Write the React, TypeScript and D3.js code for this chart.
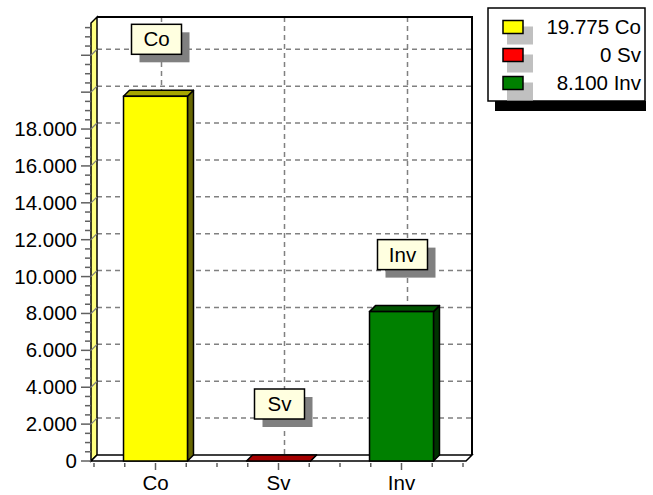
import React from 'react';
import * as d3 from 'd3';

const categories: string[] = ['Co', 'Sv', 'Inv'];
const values: number[] = [19775, 0, 8100];
const colors: string[] = ['#ffff00', '#ff0000', '#008000'];
const yLabelValues: number[] = [0, 2000, 4000, 6000, 8000, 10000, 12000, 14000, 16000, 18000];
const yGridValues: number[] = [2000, 4000, 6000, 8000, 10000, 12000, 14000, 16000, 18000, 20000, 22000];

const W = 653;
const H = 495;
const FONT = "'Liberation Sans', Arial, sans-serif";
const FS = 20.5;
const DX = 6;
const DY = 6;
const LEFT = 91;
const RIGHT = 466;
const BOTTOM = 461;
const TOP = 23;

const locale = d3.formatLocale({ decimal: ',', thousands: '.', grouping: [3], currency: ['', ''] });
const fmt = locale.format(',d');

function shade(c: string, k: number) {
  const r = d3.rgb(c);
  return d3.rgb(r.r * k, r.g * k, r.b * k).formatHex();
}

export default function App() {
  const y = d3.scaleLinear().domain([0, 23750]).range([BOTTOM, TOP]);
  const x = d3.scaleBand<string>().domain(categories).range([94, 463]).paddingInner(0.48).paddingOuter(0.24);
  const step = x.step();
  const x0 = 94;

  const minorTicks = d3.range(0, 23501, 500);
  const xTicks = d3.range(0, 13).map((i) => ({ x: x0 + (i * step) / 4, long: i % 4 === 2 }));

  const dash = { stroke: '#808080', strokeWidth: 1.5, strokeDasharray: '5,4', fill: 'none' };

  return (
    <svg width={W} height={H} style={{ position: 'absolute', left: 0, top: 0, background: '#fff' }} fontFamily={FONT}>
      <rect x={0} y={0} width={W} height={H} fill="#fff" />
      {/* back wall */}
      <rect x={LEFT + DX} y={TOP - DY} width={RIGHT - LEFT} height={BOTTOM - TOP} fill="#fff" />
      {yGridValues.map((v) => (
        <line key={'g' + v} x1={LEFT + DX} x2={RIGHT + DX} y1={y(v) - DY} y2={y(v) - DY} {...dash} />
      ))}
      {categories.map((c) => {
        const cx = (x(c) as number) + x.bandwidth() / 2 + DX;
        return <line key={'v' + c} x1={cx} x2={cx} y1={TOP - DY} y2={BOTTOM - DY} {...dash} />;
      })}
      {/* left wall */}
      <polygon
        points={`${LEFT},${BOTTOM} ${LEFT},${TOP} ${LEFT + DX},${TOP - DY} ${LEFT + DX},${BOTTOM - DY}`}
        fill="#ffff80"
        stroke="#000"
        strokeWidth={1.5}
      />
      {yGridValues.map((v) => (
        <line key={'w' + v} x1={LEFT} x2={LEFT + DX} y1={y(v)} y2={y(v) - DY} stroke="#808080" strokeWidth={1.2} />
      ))}
      {/* floor */}
      <polygon
        points={`${LEFT},${BOTTOM} ${LEFT + DX},${BOTTOM - DY} ${RIGHT + DX},${BOTTOM - DY} ${RIGHT},${BOTTOM}`}
        fill="#fff"
        stroke="#000"
        strokeWidth={1.5}
      />
      {/* back wall border */}
      <polyline
        points={`${LEFT + DX},${TOP - DY} ${RIGHT + DX},${TOP - DY} ${RIGHT + DX},${BOTTOM - DY}`}
        fill="none"
        stroke="#000"
        strokeWidth={2}
      />
      {/* y ticks */}
      {minorTicks.map((v) => {
        const major = v % 2000 === 0;
        return (
          <line key={'t' + v} x1={major ? 81 : 85} x2={LEFT} y1={y(v)} y2={y(v)} stroke="#606060" strokeWidth={1.5} />
        );
      })}
      {yLabelValues.map((v) => (
        <text key={'l' + v} x={77} y={y(v) + 7} textAnchor="end" fontSize={FS} fill="#000">
          {fmt(v)}
        </text>
      ))}
      {/* x ticks */}
      {xTicks.map((t, i) => (
        <line key={'x' + i} x1={t.x} x2={t.x} y1={BOTTOM + 2} y2={BOTTOM + (t.long ? 9 : 6)} stroke="#606060" strokeWidth={1.5} />
      ))}
      {categories.map((c) => (
        <text key={'c' + c} x={(x(c) as number) + x.bandwidth() / 2} y={490} textAnchor="middle" fontSize={FS} fill="#000">
          {c}
        </text>
      ))}
      {/* bars */}
      {categories.map((c, i) => {
        const bx = x(c) as number;
        const bw = x.bandwidth();
        const yt = y(values[i]);
        const col = colors[i];
        return (
          <g key={'b' + c}>
            <polygon
              points={`${bx + bw},${yt} ${bx + bw + DX},${yt - DY} ${bx + bw + DX},${BOTTOM - DY} ${bx + bw},${BOTTOM}`}
              fill={shade(col, 0.4)}
              stroke="#000"
              strokeWidth={1.5}
              strokeLinejoin="round"
            />
            <polygon
              points={`${bx},${yt} ${bx + DX},${yt - DY} ${bx + bw + DX},${yt - DY} ${bx + bw},${yt}`}
              fill={shade(col, 0.65)}
              stroke="#000"
              strokeWidth={1.5}
              strokeLinejoin="round"
            />
            {BOTTOM - yt > 0.5 && (
              <rect x={bx} y={yt} width={bw} height={BOTTOM - yt} fill={col} stroke="#000" strokeWidth={1.5} />
            )}
          </g>
        );
      })}
      {/* annotation boxes */}
      {categories.map((c, i) => {
        const cx = (x(c) as number) + x.bandwidth() / 2 + 1;
        const yt = y(values[i]);
        const bw = 50;
        const bh = 30;
        const top = yt - 72;
        return (
          <g key={'a' + c}>
            <rect x={cx - bw / 2 + 8} y={top + 8} width={bw} height={bh} fill="#808080" />
            <rect x={cx - bw / 2} y={top} width={bw} height={bh} fill="#ffffe0" stroke="#000" strokeWidth={1.5} />
            <text x={cx} y={top + bh / 2 + 7} textAnchor="middle" fontSize={FS} fill="#000">
              {c}
            </text>
          </g>
        );
      })}
      {/* legend */}
      <g>
        <rect x={495} y={101} width={151} height={10} fill="#000" />
        <rect x={488} y={8} width={157} height={93} fill="#fff" stroke="#000" strokeWidth={1.5} />
        {categories.map((c, i) => {
          const cy = 27 + i * 28;
          return (
            <g key={'lg' + c}>
              <rect x={507} y={cy - 6.5 + 6} width={26} height={18} fill="#c0c0c0" />
              <rect x={503} y={cy - 6.5} width={20} height={13} fill={colors[i]} stroke="#000" strokeWidth={1.5} />
              <text x={641} y={cy + 7} textAnchor="end" fontSize={FS} fill="#000">
                {`${fmt(values[i])} ${c}`}
              </text>
            </g>
          );
        })}
      </g>
    </svg>
  );
}
